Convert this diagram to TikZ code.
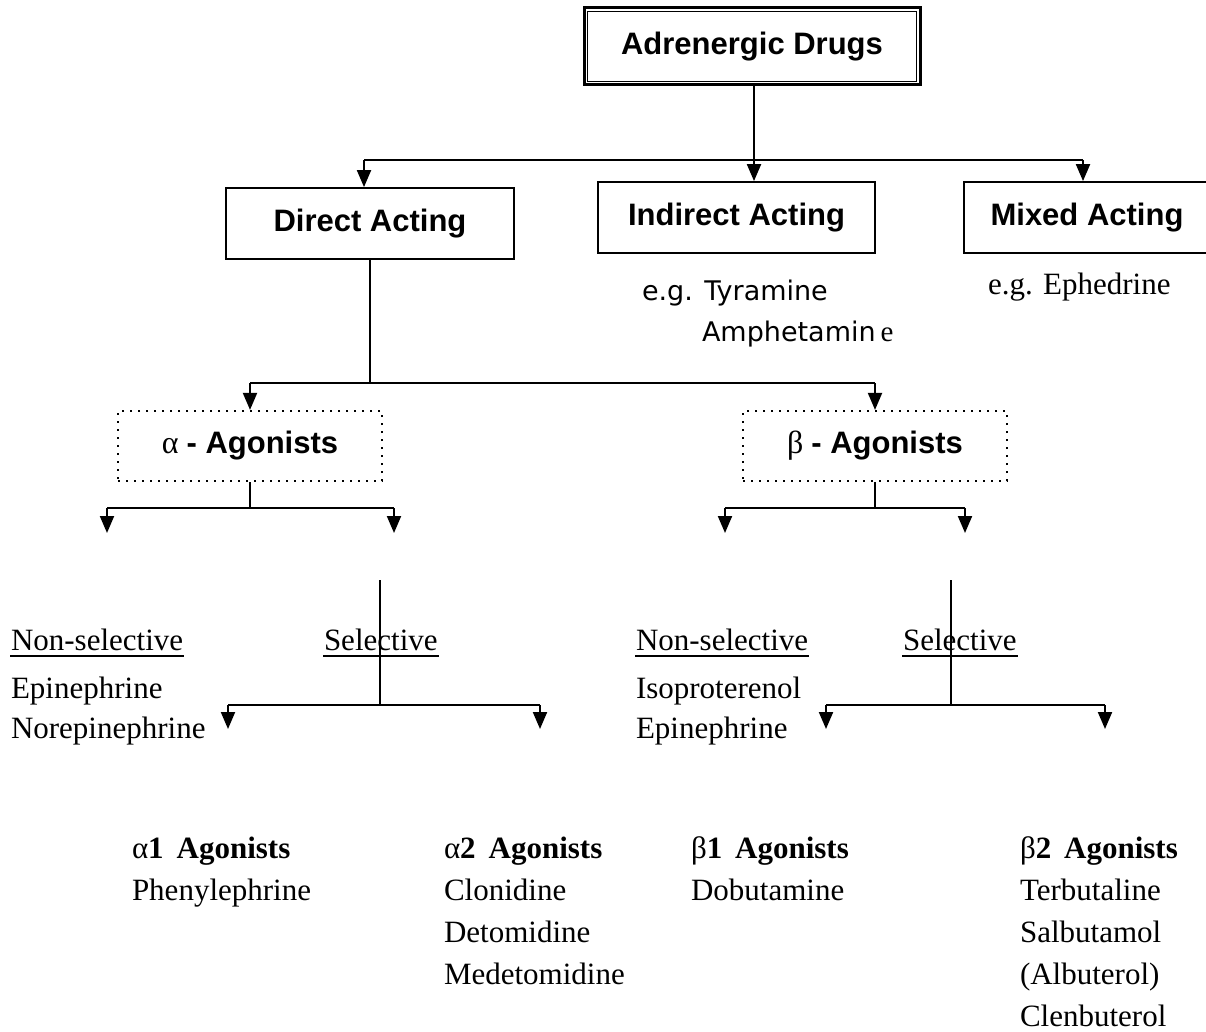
\documentclass[tikz,border=0pt]{standalone}
\usepackage{fontspec}
\setmainfont{Liberation Serif}
\newfontfamily\arialfont{Liberation Sans}
\newfontfamily\tahfont{DejaVu Sans}
\usetikzlibrary{arrows.meta}

\newcommand{\boldsans}{\arialfont\bfseries\fontsize{31}{36}\selectfont}
\newcommand{\serifsize}{\fontsize{31}{36}\selectfont}

\begin{document}
\begin{tikzpicture}[x=1pt,y=-1pt,
  line width=2pt,
  arr/.style={-{Triangle[width=14pt,length=17pt]}},
  catbox/.style={draw, line width=1.8pt, inner sep=0pt, font=\boldsans},
  dotbox/.style={draw, line width=2.2pt, dash pattern=on 2.2pt off 5.8pt,
    minimum width=264pt, minimum height=70pt, inner sep=0pt},
  txt/.style={anchor=base west, inner sep=0pt, font=\serifsize},
  egtxt/.style={anchor=base west, inner sep=0pt, font=\tahfont\fontsize{27}{32}\selectfont}
]
\useasboundingbox (0,0) rectangle (1206,1032);

% ---- root box with double frame
\node[draw, line width=3pt, minimum width=336pt, minimum height=77pt,
      inner sep=0pt, font=\boldsans] (top) at (752,46.5) {Adrenergic Drugs};
\draw[line width=1.6pt] ([shift={(5pt,-5pt)}]top.north west)
  rectangle ([shift={(-5pt,5pt)}]top.south east);

% ---- first level
\node[catbox, minimum width=288pt, minimum height=71pt] (dir) at (370,223.5) {Direct Acting};
\node[catbox, minimum width=277pt, minimum height=71pt] (ind) at (736.5,217.5) {Indirect Acting};
\node[catbox, minimum width=246pt, minimum height=71pt] (mix) at (1087,217.5) {Mixed Acting};

\coordinate (bar1L) at (364,160);
\coordinate (bar1R) at (1083,160);
\coordinate (j0) at (754,160);
\draw (bar1L) -- (bar1R);
\draw[arr] (j0 |- top.south) -- (j0 |- ind.north);
\draw[arr] (bar1L) -- (bar1L |- dir.north);
\draw[arr] (bar1R) -- (bar1R |- mix.north);

% examples under indirect / mixed
\node[egtxt] (eg1) at (641,300) {e.g. Tyramine};
\node[egtxt] (eg2) at (701,341) {Amphetamin\hspace{5pt}{\rmfamily\fontsize{29}{34}\selectfont e}};
\node[txt] (eg3) at (987,294) {e.g. Ephedrine};

% ---- alpha / beta agonists
\node[dotbox] (alp) at (250,446) {\rmfamily\fontsize{32}{36}\selectfont α {\boldsans - Agonists}};
\node[dotbox] (bet) at (875,446) {\rmfamily\fontsize{32}{36}\selectfont β {\boldsans - Agonists}};

\coordinate (bar2L) at (250,383);
\coordinate (bar2R) at (875,383);
\draw (dir.south) -- (dir.south |- bar2L);
\draw (bar2L) -- (bar2R);
\draw[arr] (bar2L) -- (alp.north);
\draw[arr] (bar2R) -- (bet.north);

% alpha split
\coordinate (a3L) at (107,508);
\coordinate (a3R) at (394,508);
\coordinate (a3Le) at (107,533);
\coordinate (a3Re) at (394,533);
\draw (alp.south) -- (alp.south |- a3L);
\draw (a3L) -- (a3R);
\draw[arr] (a3L) -- (a3Le);
\draw[arr] (a3R) -- (a3Re);

% beta split
\coordinate (b3L) at (725,508);
\coordinate (b3R) at (965,508);
\coordinate (b3Le) at (725,533);
\coordinate (b3Re) at (965,533);
\draw (bet.south) -- (bet.south |- b3L);
\draw (b3L) -- (b3R);
\draw[arr] (b3L) -- (b3Le);
\draw[arr] (b3R) -- (b3Re);

% ---- alpha non-selective / selective
\node[txt] (ans) at (10,650) {Non-selective};
\draw ([yshift=-6pt]ans.base west) -- ([yshift=-6pt]ans.base east);
\node[txt] (asl) at (323,650) {Selective};
\draw ([yshift=-6pt]asl.base west) -- ([yshift=-6pt]asl.base east);
\node[txt] (an1) at (10,698) {Epinephrine};
\node[txt] (an2) at (10,738) {Norepinephrine};

\coordinate (as0) at (380,580);
\coordinate (as1) at (380,705);
\coordinate (as1L) at (228,705);
\coordinate (as1R) at (540,705);
\coordinate (as1Le) at (228,729);
\coordinate (as1Re) at (540,729);
\draw[line width=1.6pt] (as0) -- (as1);
\draw (as1L) -- (as1R);
\draw[arr] (as1L) -- (as1Le);
\draw[arr] (as1R) -- (as1Re);

% ---- beta non-selective / selective
\node[txt] (bns) at (635,650) {Non-selective};
\draw ([yshift=-6pt]bns.base west) -- ([yshift=-6pt]bns.base east);
\node[txt] (bsl) at (902,650) {Selective};
\draw ([yshift=-6pt]bsl.base west) -- ([yshift=-6pt]bsl.base east);
\node[txt] (bn1) at (635,698) {Isoproterenol};
\node[txt] (bn2) at (635,738) {Epinephrine};

\coordinate (bs0) at (951,580);
\coordinate (bs1) at (951,705);
\coordinate (bs1L) at (826,705);
\coordinate (bs1R) at (1105,705);
\coordinate (bs1Le) at (826,729);
\coordinate (bs1Re) at (1105,729);
\draw[line width=1.6pt] (bs0) -- (bs1);
\draw (bs1L) -- (bs1R);
\draw[arr] (bs1L) -- (bs1Le);
\draw[arr] (bs1R) -- (bs1Re);

% ---- receptor subtype lists
\node[txt] (a1h) at (131,858) {α\textbf{1\, Agonists}};
\node[txt] (a1x) at (131,900) {Phenylephrine};

\node[txt] (a2h) at (443,858) {α\textbf{2\, Agonists}};
\node[txt] (a2x) at (443,900) {Clonidine};
\node[txt] (a2y) at (443,942) {Detomidine};
\node[txt] (a2z) at (443,984) {Medetomidine};

\node[txt] (b1h) at (690,858) {β\textbf{1\, Agonists}};
\node[txt] (b1x) at (690,900) {Dobutamine};

\node[txt] (b2h) at (1019,858) {β\textbf{2\, Agonists}};
\node[txt] (b2x) at (1019,900) {Terbutaline};
\node[txt] (b2y) at (1019,942) {Salbutamol};
\node[txt] (b2z) at (1019,984) {(Albuterol)};
\node[txt] (b2w) at (1019,1026) {Clenbuterol};
\end{tikzpicture}
\end{document}
